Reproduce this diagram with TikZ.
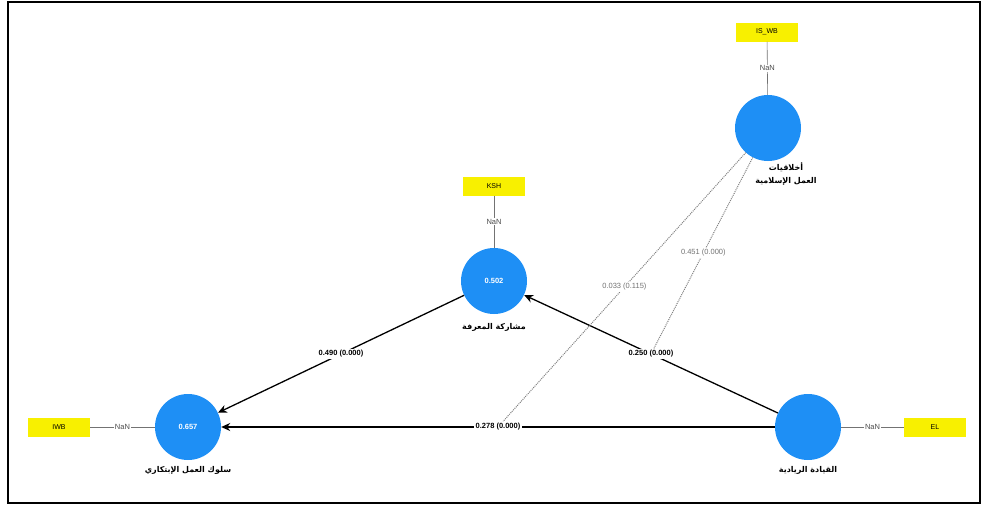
\documentclass[tikz,border=0pt]{standalone}
\usepackage{fontspec}
\setmainfont{Liberation Sans}
\newfontfamily\arabicfont[Script=Arabic]{DejaVu Sans}
\TeXXeTstate=1
\usetikzlibrary{arrows.meta}
\definecolor{lvblue}{HTML}{1E8FF5}
\definecolor{mvyellow}{HTML}{F8F000}
\tikzset{
  latent/.style={circle, fill=lvblue, minimum size=66pt, inner sep=0pt, text=white, font=\fontsize{7.5}{8}\selectfont\bfseries},
  indic/.style={fill=mvyellow, minimum width=62pt, minimum height=19pt, inner sep=0pt, font=\fontsize{7}{8}\selectfont},
  nanlab/.style={fill=white, inner sep=1pt, text=black!70, font=\fontsize{7.5}{8}\selectfont},
  arlab/.style={align=center, font=\arabicfont\bfseries\fontsize{8}{13}\selectfont},
  coef/.style={fill=white, inner sep=1.5pt, font=\fontsize{7.5}{8}\selectfont\bfseries},
  modcoef/.style={fill=white, inner sep=1.5pt, text=black!55, font=\fontsize{7.5}{8}\selectfont},
  pathline/.style={-{Stealth[length=9pt,width=8pt]}, line width=1.3pt},
  modline/.style={densely dotted, line width=1pt, black!50},
  link/.style={black!55, line width=0.6pt}
}
\begin{document}
\begin{tikzpicture}[x=1pt, y=-1pt]
	\useasboundingbox (0,0) rectangle (982,506);
	\draw[line width=2.5pt] (8,2) rectangle (980,503);
	% latent variables
	\node[latent] (iwb) at (188,427) {0.657};
	\node[latent] (ksh) at (494,281) {0.502};
	\node[latent] (el) at (808,427) {};
	\node[latent] (iswb) at (768,128) {};
	% indicators
	\node[indic] (iwbi) at (59,427) {IWB};
	\node[indic] (kshi) at (494,186) {KSH};
	\node[indic] (eli) at (935,427) {EL};
	\node[indic] (iswbi) at (767,32) {IS\_WB};
	% names
	\node[arlab] (iwbname) at (188,470) {\beginR سلوك العمل الإبتكاري\endR};
	\node[arlab] (kshname) at (494,327) {\beginR مشاركة المعرفة\endR};
	\node[arlab] (elname) at (808,470) {\beginR القيادة الريادية\endR};
	\node[arlab] (iswbname) at (786,174) {\beginR أخلاقيات\endR\\\beginR العمل الإسلامية\endR};
	\draw[link] (iwbi) -- node[nanlab] {NaN} (iwb);
	\draw[link] (kshi) -- node[nanlab] {NaN} (ksh);
	\draw[link] (eli) -- node[nanlab] {NaN} (el);
	\draw[link] (iswbi) -- node[nanlab] {NaN} (iswb);
	% paths
	\draw[pathline] (el) -- node[coef] (elksh) {0.250 (0.000)} (ksh);
	\draw[pathline] (el) -- node[coef] (eliwb) {0.278 (0.000)} (iwb);
	\draw[pathline] (ksh) -- node[coef] (kshiwb) {0.490 (0.000)} (iwb);
	% moderating effects
	\draw[modline] (iswb) -- node[modcoef] {0.451 (0.000)} (elksh);
	\draw[modline] (iswb) -- node[modcoef] {0.033 (0.115)} (eliwb);
\end{tikzpicture}
\end{document}
